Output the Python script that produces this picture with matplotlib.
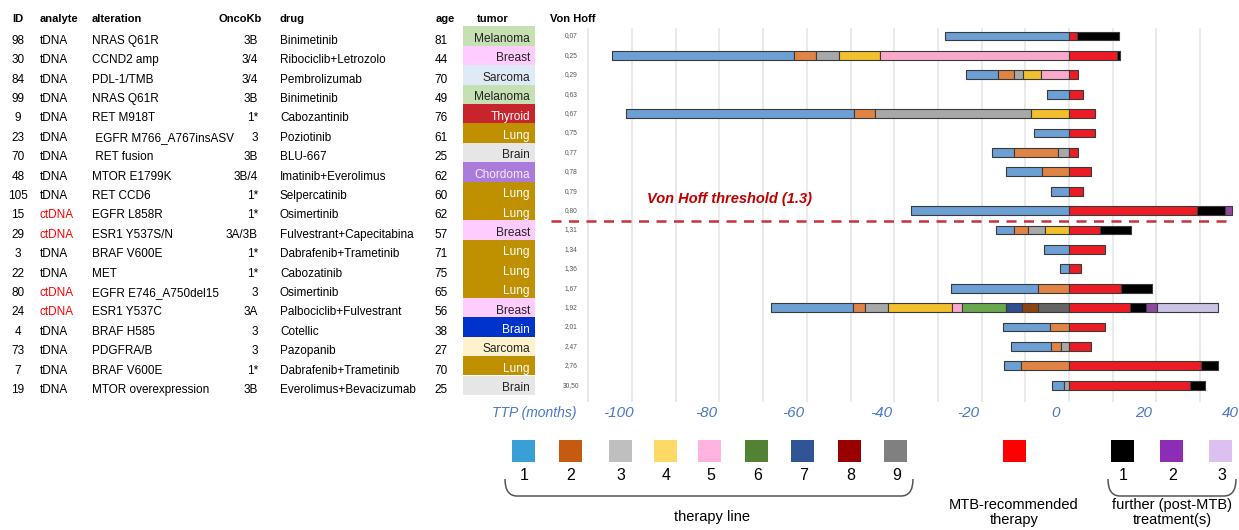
import matplotlib
matplotlib.use("Agg")
import matplotlib.pyplot as plt
from matplotlib import transforms
from matplotlib.patches import Rectangle, PathPatch
from matplotlib.path import Path
from matplotlib.lines import Line2D

plt.rcParams['font.family'] = ['Liberation Sans', 'DejaVu Sans']

# ---- table data ----
ids = [98, 30, 84, 99, 9, 23, 70, 48, 105, 15, 29, 3, 22, 80, 24, 4, 73, 7, 19]
analytes = ['tDNA', 'tDNA', 'tDNA', 'tDNA', 'tDNA', 'tDNA', 'tDNA', 'tDNA', 'tDNA', 'ctDNA',
            'ctDNA', 'tDNA', 'tDNA', 'ctDNA', 'ctDNA', 'tDNA', 'tDNA', 'tDNA', 'tDNA']
alterations = ['NRAS Q61R', 'CCND2 amp', 'PDL-1/TMB', 'NRAS Q61R', 'RET M918T',
               ' EGFR M766_A767insASV', ' RET fusion', 'MTOR E1799K', 'RET CCD6', 'EGFR L858R',
               'ESR1 Y537S/N', 'BRAF V600E', 'MET', 'EGFR E746_A750del15', 'ESR1 Y537C',
               'BRAF H585', 'PDGFRA/B', 'BRAF V600E', 'MTOR overexpression']
oncokb = ['3B', '3/4', '3/4', '3B', '1*', '3', '3B', '3B/4', '1*', '1*',
          '3A/3B', '1*', '1*', '3', '3A', '3', '3', '1*', '3B']
drugs = ['Binimetinib', 'Ribociclib+Letrozolo', 'Pembrolizumab', 'Binimetinib', 'Cabozantinib',
         'Poziotinib', 'BLU-667', 'Imatinib+Everolimus', 'Selpercatinib', 'Osimertinib',
         'Fulvestrant+Capecitabina', 'Dabrafenib+Trametinib', 'Cabozatinib', 'Osimertinib',
         'Palbociclib+Fulvestrant', 'Cotellic', 'Pazopanib', 'Dabrafenib+Trametinib',
         'Everolimus+Bevacizumab']
ages = [81, 44, 70, 49, 76, 61, 25, 62, 60, 62, 57, 71, 75, 65, 56, 38, 27, 70, 25]
tumors = ['Melanoma', 'Breast', 'Sarcoma', 'Melanoma', 'Thyroid', 'Lung', 'Brain', 'Chordoma',
          'Lung', 'Lung', 'Breast', 'Lung', 'Lung', 'Lung', 'Breast', 'Brain', 'Sarcoma',
          'Lung', 'Brain']
von_hoff = ['0,07', '0,25', '0,29', '0,63', '0,67', '0,75', '0,77', '0,78', '0,79', '0,80',
            '1,31', '1,34', '1,36', '1,67', '1,92', '2,01', '2,47', '2,76', '30,50']

# ---- time to progression (months) ----
pre_lines = [[1], [1, 2, 3, 4, 5], [1, 2, 3, 4, 5], [1], [1, 2, 3, 4], [1], [1, 2, 3], [1, 2],
             [1], [1], [1, 2, 3, 4], [1], [1], [1, 2], [1, 2, 3, 4, 5, 6, 7, 8, 9], [1, 2],
             [1, 2, 3], [1, 2], [1, 3]]
pre_months = [[28.3], [41.6, 5.2, 5.1, 9.4, 43.3], [7.4, 3.6, 2.0, 4.1, 6.5], [5.1],
              [52.2, 4.6, 35.7, 8.8], [8.0], [5.2, 10.0, 2.5], [8.2, 6.2], [4.2], [36.2],
              [4.2, 3.2, 3.9, 5.5], [5.8], [2.0], [19.8, 7.2],
              [18.8, 2.7, 5.2, 14.7, 2.4, 10.0, 3.6, 3.8, 7.0], [10.9, 4.3], [9.1, 2.3, 1.8],
              [3.9, 10.9], [2.8, 1.1]]
mtb_months = [1.9, 11.0, 2.0, 3.3, 5.9, 6.0, 2.0, 5.1, 3.1, 29.2, 7.2, 8.2, 2.7, 11.8, 14.0,
              8.2, 5.1, 30.1, 27.8]
post_lines = [[1], [1], [], [], [], [], [], [], [], [1, 2], [1], [], [], [1], [1, 2, 3], [],
              [], [1], [1]]
post_months = [[9.5], [0.6], [], [], [], [], [], [], [], [6.4, 1.7], [7.0], [], [], [7.1],
               [3.7, 2.4, 14.1], [], [], [4.1], [3.3]]

tick_vals = [-100, -80, -60, -40, -20, 0, 20, 40]
threshold_after = 9  # Von Hoff threshold falls after this row

# ---- styles ----
bar_line_colors = {1: '#6c9fd3', 2: '#df8444', 3: '#a8a8a8', 4: '#f2c02e', 5: '#f9aacb',
                   6: '#6aa84f', 7: '#2f4f8f', 8: '#8b4513', 9: '#646464'}
bar_post_colors = {1: '#000000', 2: '#8e4a9e', 3: '#cbc3e6'}
mtb_color = '#ed1c24'
tumor_bg = ['#c5e0b3', '#ffccff', '#deebf6', '#c5e0b3', '#c8242d', '#bf9000', '#e6e6e6',
            '#a97bdb', '#bf9000', '#bf9000', '#ffccff', '#bf9000', '#bf9000', '#bf9000',
            '#ffccff', '#0033cc', '#fff2cc', '#bf9000', '#e6e6e6']
tumor_fg = ['#222222', '#222222', '#222222', '#222222', 'white', 'white', '#222222', '#f4eaff',
            'white', 'white', '#222222', 'white', 'white', 'white', '#222222', 'white',
            '#222222', 'white', '#222222']
leg_line_colors = ['#3a9fd5', '#c55a11', '#bfbfbf', '#ffd966', '#ffb3de', '#548235',
                   '#2f5597', '#990000', '#808080']
leg_post_colors = ['#000000', '#8b2db5', '#dcc0f0']

W, H = 1239, 530
fig = plt.figure(figsize=(W / 100, H / 100), dpi=100)

# bar axes: 0 months at x=1069px, 4.37 px per month; rows every 19.4 px from y=36
ax = fig.add_axes([580 / W, 1 - 402 / H, (W - 580) / W, (402 - 28) / H])
ax.set_xlim((580 - 1069) / 4.37, (W - 1069) / 4.37)
ax.set_ylim((402 - 36) / 19.4, (28 - 36) / 19.4)
ax.axis('off')
for g in range(-110, 41, 10):
    ax.axvline(g, color='#e4e4e4', lw=1.1, zorder=0)

bar_h = 0.45
for i in range(len(ids)):
    left = -sum(pre_months[i])
    for ln, m in zip(pre_lines[i], pre_months[i]):
        ax.barh(i, m, left=left, height=bar_h, color=bar_line_colors[ln],
                edgecolor='#3a3a3a', lw=0.8, zorder=2)
        left += m
    ax.barh(i, mtb_months[i], left=0, height=bar_h, color=mtb_color,
            edgecolor='#3a3a3a', lw=0.8, zorder=2)
    left = mtb_months[i]
    for ln, m in zip(post_lines[i], post_months[i]):
        ax.barh(i, m, left=left, height=bar_h, color=bar_post_colors[ln],
                edgecolor='#3a3a3a', lw=0.8, zorder=2)
        left += m

# overlay in pixel coordinates for the table / legend
lay = fig.add_axes([0, 0, 1, 1])
lay.set_xlim(0, W)
lay.set_ylim(H, 0)
lay.axis('off')
row_tr = transforms.blended_transform_factory(lay.transData, ax.transData)
tick_tr = transforms.blended_transform_factory(ax.transData, lay.transData)

fs = 8.5
hdr = dict(fontsize=8, fontweight='bold', va='center', color='black')
lay.text(12, 19, 'ID', ha='left', **hdr)
lay.text(40, 19, 'analyte', ha='left', **hdr)
lay.text(92, 19, 'alteration', ha='left', **hdr)
lay.text(262, 19, 'OncoKb', ha='right', **hdr)
lay.text(280, 19, 'drug', ha='left', **hdr)
lay.text(445, 19, 'age', ha='center', **hdr)
lay.text(493, 19, 'tumor', ha='center', **hdr)
lay.text(573, 19, 'Von Hoff', ha='center', **hdr)

for i in range(len(ids)):
    yt = i + 0.25
    kw = dict(fontsize=fs, va='center', transform=row_tr)
    lay.text(18, yt, str(ids[i]), ha='center', **kw)
    lay.text(40, yt, analytes[i], ha='left',
             color='#ff0000' if analytes[i] == 'ctDNA' else 'black', **kw)
    lay.text(92, yt, alterations[i], ha='left', **kw)
    lay.text(258, yt, oncokb[i], ha='right', **kw)
    lay.text(280, yt, drugs[i], ha='left', **kw)
    lay.text(441, yt, str(ages[i]), ha='center', **kw)
    lay.add_patch(Rectangle((463, i - 0.5), 72, 1, transform=row_tr,
                            facecolor=tumor_bg[i], lw=0))
    lay.text(530, i + 0.15, tumors[i], ha='right', fontsize=8.6, va='center',
             color=tumor_fg[i], transform=row_tr)
    lay.text(571, i, von_hoff[i], ha='center', va='center', fontsize=4.8,
             color='#555555', transform=row_tr)

# Von Hoff threshold
lay.add_line(Line2D([551, 1233], [threshold_after + 0.54] * 2, transform=row_tr,
                    color='#c8323c', lw=1.8, dashes=(4, 3)))
lay.text(647, 199, 'Von Hoff threshold (1.3)', ha='left', va='center', fontsize=10.5,
         fontweight='bold', fontstyle='italic', color='#c00000')

# axis labels
tick_kw = dict(fontsize=11, fontstyle='italic', color='#4a76c8', va='center', ha='center')
for v in tick_vals:
    ax.text(v - 3, 413, str(v), transform=tick_tr, **tick_kw)
lay.text(534, 413, 'TTP (months)', fontsize=10, fontstyle='italic', color='#4a76c8',
         va='center', ha='center')

# legend
def swatch(cx, color, label):
    lay.add_patch(Rectangle((cx - 11.5, 440), 23, 22, facecolor=color, lw=0))
    if label:
        lay.text(cx + 1, 476, label, ha='center', va='center', fontsize=11.5)

line_x = [523.5, 570, 620, 665, 709.5, 756.5, 802.5, 849.5, 895.5]
for k, c in enumerate(leg_line_colors):
    swatch(line_x[k], c, str(k + 1))
swatch(1014, '#ff0000', '')
post_x = [1122.5, 1171.5, 1220.5]
for k, c in enumerate(leg_post_colors):
    swatch(post_x[k], c, str(k + 1))


def bracket(x0, x1, ytop=479, ybot=496, r=12):
    verts = [(x0, ytop), (x0, ybot), (x0 + r, ybot), (x1 - r, ybot), (x1, ybot), (x1, ytop)]
    codes = [Path.MOVETO, Path.CURVE3, Path.CURVE3, Path.LINETO, Path.CURVE3, Path.CURVE3]
    lay.add_patch(PathPatch(Path(verts, codes), facecolor='none', edgecolor='#555555', lw=1.1))


bracket(505, 913)
bracket(1108, 1236)
txt_kw = dict(ha='center', va='center', fontsize=10.5)
lay.text(712, 517, 'therapy line', **txt_kw)
lay.text(1014, 505, 'MTB-recommended', **txt_kw)
lay.text(1014, 520, 'therapy', **txt_kw)
lay.text(1172, 505, 'further (post-MTB)', **txt_kw)
lay.text(1172, 520, 'treatment(s)', **txt_kw)

fig.savefig('out.png', dpi=100, facecolor='white')
